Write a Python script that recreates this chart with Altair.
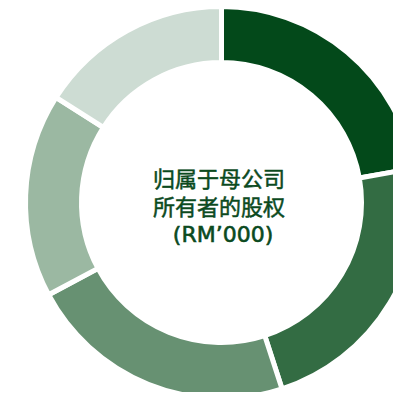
import altair as alt
import pandas as pd

categories = ["A", "B", "C", "D", "E"]
values = [22.2, 22.8, 22.2, 16.8, 16.0]
colors = ["#03491a", "#336c43", "#679172", "#9bb8a2", "#cddcd3"]
title_lines = ["归属于母公司", "所有者的股权"]
unit_line = "(RM’000)"

df = pd.DataFrame({"cat": categories, "val": values, "order": list(range(len(categories)))})

cx, cy = 213.5, 194.5
text_color = "#0b4a1e"

arcs = alt.Chart(df).mark_arc(
    innerRadius=140, outerRadius=196, stroke="white", strokeWidth=5
).encode(
    theta=alt.Theta("val:Q", stack=True),
    order=alt.Order("order:Q"),
    color=alt.Color("cat:N", scale=alt.Scale(domain=categories, range=colors), legend=None),
    x=alt.value(cx),
    y=alt.value(cy),
)

one = pd.DataFrame({"t": [0]})

title = alt.Chart(one).mark_text(
    font="Noto Sans CJK SC", fontSize=22, fontWeight="normal", color=text_color,
    stroke=text_color, strokeWidth=0.5, align="center", baseline="middle",
    lineHeight=28,
).encode(x=alt.value(211), y=alt.value(172), text=alt.value(title_lines))

unit = alt.Chart(one).mark_text(
    font="DejaVu Sans", fontSize=22, fontWeight="normal", color=text_color,
    stroke=text_color, strokeWidth=0.6, align="center", baseline="middle",
).encode(x=alt.value(215), y=alt.value(227), text=alt.value(unit_line))

chart = alt.layer(arcs, title, unit).properties(
    width=385, height=384,
    autosize=alt.AutoSizeParams(type="none"),
    padding=0,
).configure_view(stroke=None)

chart.save("out.html", embed_options={"renderer": "svg", "actions": False})
